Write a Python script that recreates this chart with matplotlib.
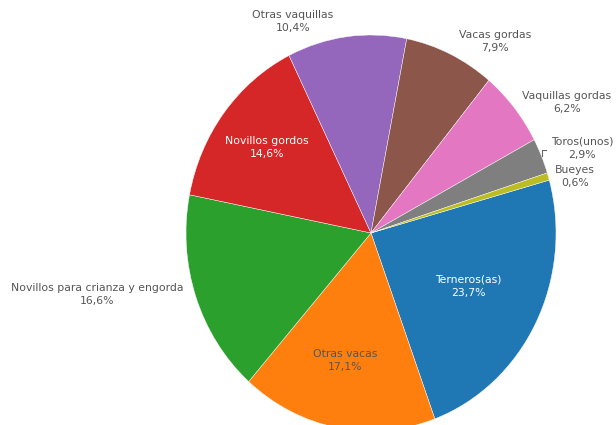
import matplotlib
matplotlib.use("Agg")
import matplotlib.pyplot as plt

categorias = ["Terneros(as)", "Otras vacas", "Novillos para crianza y engorda",
              "Novillos gordos", "Otras vaquillas", "Vacas gordas",
              "Vaquillas gordas", "Toros(unos)", "Bueyes"]
porcentajes = [23.7, 17.1, 16.6, 14.6, 10.4, 7.9, 6.2, 2.9, 0.6]
colores = ["#1f77b4", "#ff7f0e", "#2ca02c", "#d62728", "#9467bd",
           "#8c564b", "#e377c2", "#7f7f7f", "#bcbd22"]

# label centres in pixels (x, y of first line) and text colours
pos_etiquetas = [(468, 282), (345, 356), (97, 290), (267, 143), (293, 17),
                 (495, 37), (567, 98), (582, 144), (575, 172)]
color_txt = ["white", "#555555", "#555555", "white", "#555555",
             "#555555", "#555555", "#555555", "#555555"]

W, H = 616, 425
fig = plt.figure(figsize=(W / 100, H / 100), dpi=100)

# pie is stretched vertically: rx=185 px, ry=198 px, centre (371, 233)
cx, cy, rx, ry = 371, 233, 185, 198
ax = fig.add_axes([(cx - rx) / W, (H - cy - ry) / H, 2 * rx / W, 2 * ry / H])
ax.pie(porcentajes, colors=colores, startangle=15.5, counterclock=False,
       wedgeprops=dict(edgecolor="white", linewidth=0.3))
ax.set_aspect("auto")
ax.set_xlim(-1, 1)
ax.set_ylim(-1, 1)
ax.axis("off")

for cat, val, (px, py), c in zip(categorias, porcentajes, pos_etiquetas, color_txt):
    txt = cat + "\n" + f"{val:.1f}".replace(".", ",") + "%"
    fig.text(px / W, 1 - (py - 7) / H, txt, ha="center", va="top",
             fontsize=7.8, color=c, linespacing=1.35, family="DejaVu Sans")

# small connector for Toros(unos)
fig.add_artist(plt.Line2D([542 / W, 542 / W, 546 / W],
                          [1 - 156 / H, 1 - 150 / H, 1 - 150 / H],
                          color="#666666", linewidth=0.8))

fig.savefig("out.png", dpi=100)
